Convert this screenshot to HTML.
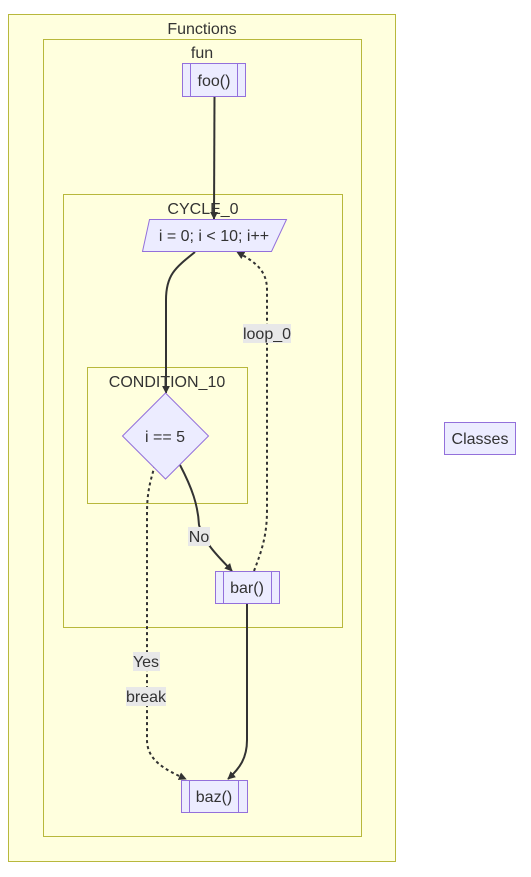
<!DOCTYPE html>
<html><head><meta charset="utf-8"><style>
html,body{margin:0;padding:0;background:#fff;}
svg{display:block;font-family:"Liberation Sans",Arial,sans-serif;}
</style></head><body>
<svg width="531" height="877" viewBox="0 0 531 877" xmlns="http://www.w3.org/2000/svg">
<defs>
<marker id="a" viewBox="0 0 10 10" refX="9" refY="5" markerWidth="8" markerHeight="8" orient="auto-start-reverse" markerUnits="userSpaceOnUse">
<path d="M0,0 L10,5 L0,10 z" fill="#333"/></marker>
</defs>
<g fill="#ffffde" stroke="#b8b83c" stroke-width="1">
<rect x="8.5" y="14.5" width="387" height="847"/>
<rect x="43.5" y="39.5" width="318" height="797"/>
<rect x="63.5" y="194.5" width="279" height="433"/>
<rect x="87.5" y="367.5" width="160" height="136"/>
</g>
<g fill="#333" font-size="16" text-anchor="middle">
<text x="202" y="34">Functions</text>
<text x="202" y="58">fun</text>
<text x="203" y="214">CYCLE_0</text>
<text x="167" y="387">CONDITION_10</text>
</g>
<g fill="none" stroke="#333" stroke-width="2">
<path d="M214.5,96 L214,219" marker-end="url(#a)"/>
<path d="M195,252 C175,268 166,275 166,300 L166,393" marker-end="url(#a)"/>
<path d="M180,465 C192,488 198,505 199,525 C205,545 220,558 232,571" marker-end="url(#a)"/>
<path d="M247,603 L247,740 C247,758 240,768 228,779" marker-end="url(#a)"/>
</g>
<g fill="none" stroke="#333" stroke-width="2" stroke-dasharray="3,3">
<path d="M254,571 C262,550 267,535 267,510 L267,290 C267,270 255,262 237,252" marker-end="url(#a)"/>
<path d="M155,465 C149,485 147,495 147,515 L147,740 C147,760 165,770 186,779" marker-end="url(#a)"/>
</g>
<g fill="#e8e8e8">
<rect x="188" y="527" width="22" height="19"/>
<rect x="243" y="324" width="48" height="19"/>
<rect x="133" y="652" width="27" height="19"/>
<rect x="126" y="687" width="40" height="19"/>
</g>
<g fill="#333" font-size="16" text-anchor="middle">
<text x="199" y="542">No</text>
<text x="267" y="339">loop_0</text>
<text x="146" y="667">Yes</text>
<text x="146" y="702">break</text>
</g>
<g fill="#ececff" stroke="#9370db" stroke-width="1">
<rect x="182.5" y="63.5" width="63" height="33"/>
<path d="M190.5,63.5 V96.5 M237.5,63.5 V96.5"/>
<polygon points="149.5,219.5 286.5,219.5 271.5,251.5 142.5,251.5"/>
<polygon points="165.5,393 208.5,436 165.5,479 122.5,436"/>
<rect x="215.5" y="571.5" width="64" height="32"/>
<path d="M223.5,571.5 V603.5 M271.5,571.5 V603.5"/>
<rect x="181.5" y="780.5" width="66" height="32"/>
<path d="M189.5,780.5 V812.5 M238.5,780.5 V812.5"/>
<rect x="444.5" y="422.5" width="71" height="32"/>
</g>
<g fill="#333" font-size="16" text-anchor="middle">
<text x="214" y="86">foo()</text>
<text x="214" y="241">i = 0; i &lt; 10; i++</text>
<text x="165" y="442">i == 5</text>
<text x="247" y="593">bar()</text>
<text x="214" y="802">baz()</text>
<text x="480" y="444">Classes</text>
</g>
</svg>
</body></html>
